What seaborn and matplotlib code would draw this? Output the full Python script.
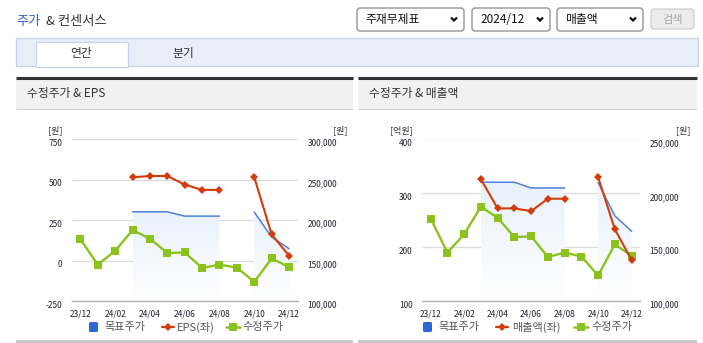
import numpy as np
import pandas as pd
import matplotlib
matplotlib.use("Agg")
import matplotlib.pyplot as plt
import seaborn as sns
from matplotlib.patches import Rectangle, FancyBboxPatch, Polygon
from matplotlib.colors import LinearSegmentedColormap
from matplotlib.transforms import ScaledTranslation
from matplotlib.lines import Line2D

# ---------------- data ----------------
months = ['23/12', '24/01', '24/02', '24/03', '24/04', '24/05', '24/06',
          '24/07', '24/08', '24/09', '24/10', '24/11', '24/12']
month_ticks = ['23/12', '24/02', '24/04', '24/06', '24/08', '24/10', '24/12']
price = [176500, 145000, 162000, 187700, 177200, 159300, 160100,
         140900, 145000, 141300, 123700, 152600, 142000]
target = [np.nan, np.nan, np.nan, 210300, 210300, 210300, 205000,
          205000, 205000, np.nan, 210000, 179000, 164800]
eps = [np.nan, np.nan, np.nan, 515, 523, 523, 470, 437, 437, np.nan, 515, 162, 30]
sales = [np.nan, np.nan, np.nan, 326, 272, 272, 267, 290, 290, np.nan, 330, 233, 176]

eps_ticks = [-250, 0, 250, 500, 750]
sales_ticks = [100, 200, 300, 400]
price_ticks_l = [100000, 150000, 200000, 250000, 300000]
price_ticks_r = [100000, 150000, 200000, 250000]

# ---------------- style ----------------
sns.set_style("white")
plt.rcParams['font.family'] = ['Noto Sans CJK KR', 'DejaVu Sans']

RED = '#d23c0a'
GREEN = '#8cc21e'
BLUE = '#4b82d8'
BLUE_LEG = '#2a6ad8'
TXT = '#333333'
TICK = '#222233'

W, H = 703, 343
fig = plt.figure(figsize=(W / 100, H / 100), dpi=100)
fig.patch.set_facecolor('white')

bg = fig.add_axes([0, 0, 1, 1], zorder=0)
bg.set_xlim(0, W)
bg.set_ylim(H, 0)
bg.axis('off')

# header
bg.text(16, 21, '주가', color='#2e62c8', fontsize=9.5, va='center', ha='left')
bg.text(46, 21, '& 컨센서스', color=TXT, fontsize=9.5, va='center', ha='left')


def dropdown(x0, x1, label):
    bg.add_patch(FancyBboxPatch((x0, 8), x1 - x0, 23, boxstyle='round,pad=0,rounding_size=3',
                                facecolor='white', edgecolor='#8a8a8a', lw=0.9))
    bg.text(x0 + 8, 19.5, label, fontsize=8.5, color='#111111', va='center', ha='left')
    cx = x1 - 10
    bg.plot([cx - 3, cx, cx + 3], [17.5, 20.5, 17.5], color='#111111', lw=1.6,
            solid_capstyle='butt', solid_joinstyle='miter')


dropdown(357, 464, '주재무제표')
dropdown(472, 550, '2024/12')
dropdown(557, 643, '매출액')
bg.add_patch(FancyBboxPatch((651, 9), 43, 20, boxstyle='round,pad=0,rounding_size=3',
                            facecolor='#ececec', edgecolor='#cfcfcf', lw=0.9))
bg.text(672.5, 19.5, '검색', fontsize=8, color='#a8a8a8', va='center', ha='center')

# tab bar
bg.add_patch(Rectangle((16, 38), 682, 27.5, facecolor='#e8eef8', edgecolor='#c8d4e6', lw=0.9))
bg.add_patch(Rectangle((36, 42), 92, 25, facecolor='white', edgecolor='#c8d4e6', lw=0.9))
bg.add_patch(Rectangle((36.6, 64), 90.8, 3, facecolor='white', edgecolor='none'))
bg.text(81, 53.5, '연간', fontsize=8.5, color=TXT, va='center', ha='center')
bg.text(183, 53.5, '분기', fontsize=8.5, color=TXT, va='center', ha='center')

# panels
for (x0, x1, title) in [(16, 353, '수정주가 & EPS'), (358, 697, '수정주가 & 매출액')]:
    bg.add_patch(Rectangle((x0, 78), x1 - x0, 31, facecolor='#f1f1f1', edgecolor='none'))
    bg.plot([x0, x1], [77.5, 77.5], color='#333333', lw=2.2, solid_capstyle='butt')
    bg.plot([x0, x1], [109, 109], color='#d8d8d8', lw=0.8)
    bg.text(x0 + 11, 94, title, fontsize=8.5, color=TXT, va='center', ha='left')
    bg.add_patch(Rectangle((x0, 340), x1 - x0, 3, facecolor='#c8c8c8', edgecolor='none'))

cmap = LinearSegmentedColormap.from_list('fade', ['#ffffff', '#e9f1fc'])


def segs(values):
    v = pd.Series(values, dtype=float)
    seg = v.isna().cumsum()
    df = pd.DataFrame({'x': np.arange(len(v)), 'y': v, 'seg': seg})
    return df.dropna()


def grad_fill(ax, df, ybottom):
    for _, g in df.groupby('seg'):
        xs = g['x'].to_numpy()
        ys = g['y'].to_numpy()
        verts = [(xs[0], ybottom)] + list(zip(xs, ys)) + [(xs[-1], ybottom)]
        poly = Polygon(verts, closed=True, facecolor='none', edgecolor='none')
        ax.add_patch(poly)
        grad = np.linspace(1, 0, 256).reshape(-1, 1)
        im = ax.imshow(grad, extent=[xs[0], xs[-1], ybottom, ys.max()], cmap=cmap,
                       aspect='auto', zorder=1, interpolation='bicubic')
        im.set_clip_path(poly)


def offset_labels(labels, dy_px):
    for lab in labels:
        lab.set_transform(lab.get_transform() + ScaledTranslation(0, -dy_px / 100, fig.dpi_scale_trans))


def make_chart(px0, px1, py0, py1, left_vals, left_lim, left_ticks, price_lim, price_ticks):
    rect = [px0 / W, 1 - py1 / H, (px1 - px0) / W, (py1 - py0) / H]
    ax = fig.add_axes(rect, zorder=2)
    ax.patch.set_alpha(0)
    # primary: price (right scale)
    tdf = segs(target)
    grad_fill(ax, tdf, price_lim[0])
    sns.lineplot(data=tdf, x='x', y='y', units='seg', estimator=None, ax=ax,
                 color=BLUE, lw=1.1, zorder=3, legend=False)
    pdf = segs(price)
    sns.lineplot(data=pdf, x='x', y='y', units='seg', estimator=None, ax=ax,
                 color=GREEN, lw=1.7, marker='s', markersize=5.8, markeredgewidth=0,
                 zorder=4, legend=False)
    ax.set_xlim(-0.5, 12.5)
    ax.set_ylim(*price_lim)
    ax.grid(axis='y', color='#dcdcdc', lw=0.9)
    ax.grid(axis='x', visible=False)
    ax.set_xlabel('')
    ax.set_ylabel('')
    # secondary: eps / sales (left scale)
    ax2 = ax.twinx()
    ldf = segs(left_vals)
    sns.lineplot(data=ldf, x='x', y='y', units='seg', estimator=None, ax=ax2,
                 color=RED, lw=1.5, marker='D', markersize=4.5, markeredgewidth=0,
                 zorder=5, legend=False)
    ax2.set_ylim(*left_lim)
    ax2.set_ylabel('')
    ax2.grid(False)
    # tick sides: price on right, eps/sales on left
    ax.yaxis.tick_right()
    ax2.yaxis.tick_left()
    ax.set_yticks(price_ticks)
    ax.set_yticklabels([f'{t:,}' for t in price_ticks])
    ax2.set_yticks(left_ticks)
    ax2.set_yticklabels([str(t) for t in left_ticks])
    for a in (ax, ax2):
        for s in ['left', 'right', 'top']:
            a.spines[s].set_visible(False)
        a.spines['bottom'].set_color('#b4b4bc')
        a.spines['bottom'].set_linewidth(0.9)
        a.tick_params(axis='y', length=0, labelsize=6, labelcolor=TICK, pad=7)
    ax.set_xticks(np.arange(0, 13, 2))
    ax.set_xticklabels(month_ticks)
    ax.set_xticks([-0.5, 2.5, 4.5, 6.5, 8.5, 10.5, 12.5], minor=True)
    ax.tick_params(axis='x', which='major', length=0, labelsize=6, labelcolor=TICK, pad=6)
    ax.tick_params(axis='x', which='minor', length=4, color='#b4b4bc', width=0.9)
    offset_labels(ax.get_yticklabels(), 3)
    offset_labels(ax2.get_yticklabels(), 3)
    return ax, ax2


make_chart(71.7, 297.7, 139.3, 301, eps, (-250, 750), eps_ticks,
           (100000, 300000), price_ticks_l)
make_chart(422.3, 640, 139.5, 301, sales, (100, 400), sales_ticks,
           (100000, 250000), price_ticks_r)

# unit labels
for x, s in [(55, '[원]'), (340, '[원]'), (401, '[억원]'), (683, '[원]')]:
    bg.text(x, 130, s, fontsize=6.5, color=TXT, ha='center', va='center')


def legend(xb, xr, xrt, xg, xgt, red_label):
    y = 327
    bg.add_patch(FancyBboxPatch((xb, 322), 9, 10, boxstyle='round,pad=0,rounding_size=1.5',
                                facecolor=BLUE_LEG, edgecolor='none'))
    bg.text(xb + 15, y, '목표주가', fontsize=8, color='#555555', va='center', ha='left')
    bg.add_line(Line2D([xr - 6, xr + 6], [y, y], color=RED, lw=1.6))
    bg.add_line(Line2D([xr], [y], color=RED, marker='D', markersize=4.5, markeredgewidth=0))
    bg.text(xrt, y, red_label, fontsize=8, color='#555555', va='center', ha='left')
    bg.add_line(Line2D([xg - 7, xg + 7], [y, y], color=GREEN, lw=1.8))
    bg.add_line(Line2D([xg], [y], color=GREEN, marker='s', markersize=6, markeredgewidth=0))
    bg.text(xgt, y, '수정주가', fontsize=8, color='#555555', va='center', ha='left')


legend(89, 168, 177, 233, 242, 'EPS(좌)')
legend(423, 502, 512, 581, 591, '매출액(좌)')

fig.savefig('out.png', dpi=100, facecolor='white')
